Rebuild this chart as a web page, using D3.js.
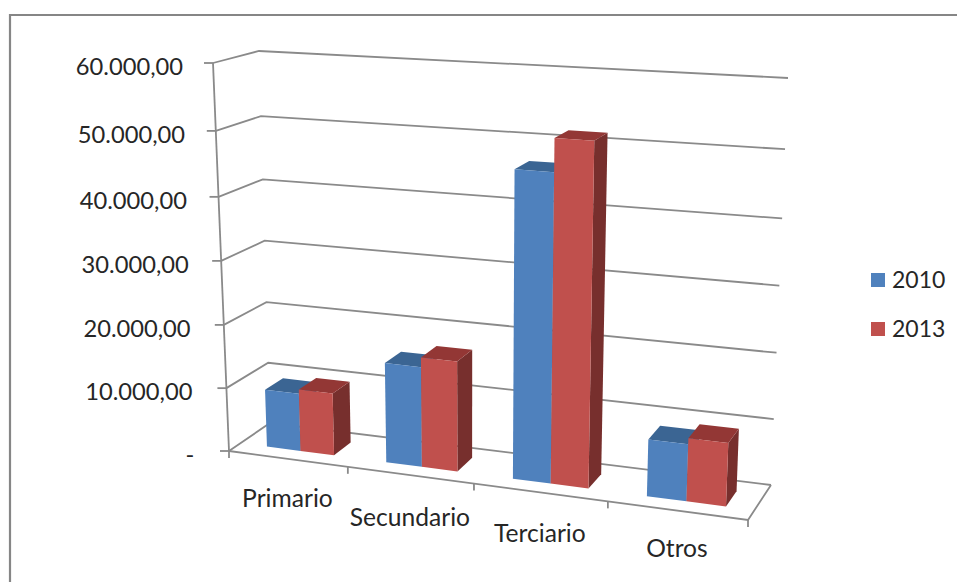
<!DOCTYPE html>
<html>
<head>
<meta charset="utf-8">
<script src="https://d3js.org/d3.v7.min.js"></script>
<style>
html,body{margin:0;padding:0;background:#fff;overflow:hidden}
text{font-family:Lato,"Open Sans",sans-serif;fill:#262626}
</style>
</head>
<body>
<script>
// Chart values
const categories = ["Primario", "Secundario", "Terciario", "Otros"];
const seriesNames = ["2010", "2013"];
const values2010 = [9100, 15500, 46700, 8500];
const values2013 = [9800, 17000, 51600, 9400];
const valueTicks = [0, 10000, 20000, 30000, 40000, 50000, 60000];
const valueTickLabels = ["-", "10.000,00", "20.000,00", "30.000,00", "40.000,00", "50.000,00", "60.000,00"];

const width = 957, height = 582;
const seriesColors = [
  {front: "#4f81bd", top: "#3b6593", side: "#2f527b"},
  {front: "#c0504d", top: "#933735", side: "#772f2d"}
];

// Corners of the 3D plot box on screen, named by floor/top, front/back, left/right
const box = {
  floorFrontLeft: [229, 451], floorFrontRight: [748, 520],
  floorBackLeft: [270, 423], floorBackRight: [771, 485],
  topFrontLeft: [213, 63], topFrontRight: [765, 96],
  topBackLeft: [259, 51], topBackRight: [788, 78]
};

// Foreshortening along the category and value directions
const categoryScale = d3.scaleLinear().domain([0, 1, 2, 3, 4]).range([0, 0.229, 0.472, 0.730, 1]);
const valueScale = d3.scaleLinear().domain(valueTicks).range([0, 0.162, 0.325, 0.49, 0.655, 0.825, 1]);
const mix = (a, b, t) => [a[0] + (b[0] - a[0]) * t, a[1] + (b[1] - a[1]) * t];

// Maps category position, depth (0 front to 1 back) and value to the screen
function project(c, depth, value) {
  const u = categoryScale(c), v = valueScale(value);
  const floorFront = mix(box.floorFrontLeft, box.floorFrontRight, u);
  const floorBack = mix(box.floorBackLeft, box.floorBackRight, u);
  const topFront = mix(box.topFrontLeft, box.topFrontRight, u);
  const topBack = mix(box.topBackLeft, box.topBackRight, u);
  return mix(mix(floorFront, floorBack, depth), mix(topFront, topBack, depth), v);
}

const svg = d3.select("body").append("svg").attr("width", width).attr("height", height);
const line = d3.line();
const gridColor = "#8a8a8a";

// Outer chart frame, running off the right and bottom edges
svg.append("path")
  .attr("d", line([[width + 4, 15], [10, 15], [10, height + 4]]))
  .attr("fill", "none").attr("stroke", "#868686").attr("stroke-width", 2.2);

// Side wall and back wall lines
const walls = svg.append("g").attr("fill", "none").attr("stroke", gridColor).attr("stroke-width", 1.8);
walls.selectAll("path.grid").data(valueTicks).join("path").attr("class", "grid")
  .attr("d", v => line([project(0, 0, v), project(0, 1, v), project(4, 1, v)]));

// Floor edges, vertical axis and tick marks
const axes = svg.append("g").attr("fill", "none").attr("stroke", gridColor).attr("stroke-width", 1.8);
axes.append("path").attr("d", line([project(0, 0, 0), project(0, 0, 60000)]));
axes.append("path").attr("d", line([project(0, 0, 0), project(4, 0, 0), project(4, 1, 0)]));
axes.selectAll("path.vtick").data(valueTicks).join("path").attr("class", "vtick")
  .attr("d", v => {
    const p = project(0, 0, v);
    return line([[p[0] - 9, p[1]], p]);
  });
axes.selectAll("path.ctick").data(d3.range(categories.length + 1)).join("path").attr("class", "ctick")
  .attr("d", c => {
    const p = project(c, 0, 0);
    return line([p, [p[0], p[1] + 7]]);
  });

// Bars, drawn left to right so that each front covers its neighbour's side
const barGap = 0.225, barWidth = 0.285, depthFront = 0.28, depthBack = 0.72;
const bars = categories.flatMap((name, c) => [values2010, values2013].map((vals, s) => ({
  c0: c + barGap + s * barWidth,
  c1: c + barGap + (s + 1) * barWidth,
  value: vals[c],
  colors: seriesColors[s]
})));
const barGroups = svg.selectAll("g.bar").data(bars).join("g").attr("class", "bar");
barGroups.append("path").attr("fill", d => d.colors.side)
  .attr("d", d => line([
    project(d.c1, depthFront, 0), project(d.c1, depthBack, 0),
    project(d.c1, depthBack, d.value), project(d.c1, depthFront, d.value)
  ]) + "Z");
barGroups.append("path").attr("fill", d => d.colors.top)
  .attr("d", d => line([
    project(d.c0, depthFront, d.value), project(d.c1, depthFront, d.value),
    project(d.c1, depthBack, d.value), project(d.c0, depthBack, d.value)
  ]) + "Z");
barGroups.append("path").attr("fill", d => d.colors.front)
  .attr("d", d => line([
    project(d.c0, depthFront, 0), project(d.c1, depthFront, 0),
    project(d.c1, depthFront, d.value), project(d.c0, depthFront, d.value)
  ]) + "Z");

// Value labels
svg.append("g").selectAll("text").data(valueTicks).join("text")
  .attr("x", (v, i) => project(0, 0, v)[0] - 30 - (6 - i) * 0.8)
  .attr("y", v => project(0, 0, v)[1] + 12)
  .attr("text-anchor", "end").attr("font-size", 23.7)
  .text((v, i) => valueTickLabels[i]);

// Category labels beneath the front edge
const categoryLabelDrop = [48, 51, 50, 46];
svg.append("g").selectAll("text").data(categories).join("text")
  .attr("x", (d, i) => project(i + 0.5, 0, 0)[0] - 1)
  .attr("y", (d, i) => project(i + 0.5, 0, 0)[1] + categoryLabelDrop[i])
  .attr("text-anchor", "middle").attr("font-size", 24.6)
  .text(d => d);

// Legend
const legend = svg.append("g").selectAll("g").data(seriesNames).join("g")
  .attr("transform", (d, i) => `translate(871,${273 + i * 49})`);
legend.append("rect").attr("width", 14).attr("height", 14).attr("fill", (d, i) => seriesColors[i].front);
legend.append("text").attr("x", 21).attr("y", 15).attr("font-size", 23).text(d => d);
</script>
</body>
</html>
